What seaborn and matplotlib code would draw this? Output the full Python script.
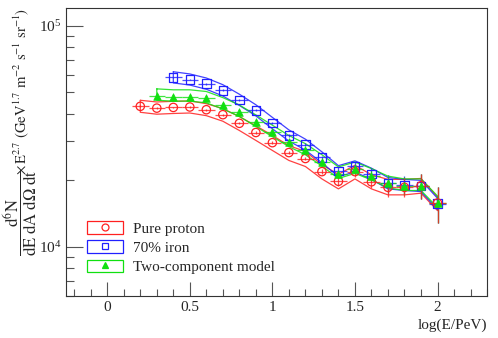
import numpy as np
import pandas as pd
import matplotlib
matplotlib.use("Agg")
import matplotlib.pyplot as plt
import seaborn as sns
from matplotlib.patches import Patch
from matplotlib.lines import Line2D
from matplotlib.ticker import LogLocator, NullFormatter, MultipleLocator

# ---- data ----
proton_x = [0.2, 0.3, 0.4, 0.5, 0.6, 0.7, 0.8, 0.9, 1.0, 1.1, 1.2, 1.3, 1.4, 1.5, 1.6, 1.7, 1.8, 1.9, 2.0]
proton_y = [43200, 42400, 42700, 42900, 41700, 39600, 36200, 32900, 29600, 26700, 25100, 21900, 19800,
            21900, 19700, 18600, 18600, 18900, 15800]
proton_err = [400, 400, 400, 400, 400, 400, 400, 400, 400, 400, 500, 600, 900, 1100, 1300, 1800, 1800, 2400, 2900]
proton_hi = [46000, 45200, 45500, 45700, 44400, 42200, 38800, 35300, 31900, 28700, 27000, 23500, 21300,
             23400, 21200, 20200, 20200, 20400, 16800]
proton_lo = [40600, 39800, 40100, 40300, 39200, 37000, 33600, 30300, 27300, 24600, 23100, 20300, 18300,
             20300, 18300, 17200, 17200, 17500, 14600]

iron_x = [0.4, 0.5, 0.6, 0.7, 0.8, 0.9, 1.0, 1.1, 1.2, 1.3, 1.4, 1.5, 1.6, 1.7, 1.8, 1.9, 2.0]
iron_y = [58400, 57100, 54700, 51000, 46200, 41400, 36300, 31900, 29000, 25400, 22000, 23100, 21400,
          19400, 19100, 18900, 15700]
iron_err = [500, 500, 500, 500, 500, 450, 400, 400, 400, 400, 900, 1100, 1300, 1800, 1800, 2400, 2900]
iron_hi = [61900, 60500, 58000, 54100, 49000, 43900, 38500, 33800, 30700, 26900, 23300, 24500, 22700,
           20600, 20200, 20000, 16600]
iron_lo = [55100, 53900, 51600, 48100, 43600, 39100, 34200, 30100, 27400, 24000, 20800, 21800, 20200,
           18300, 18000, 17800, 14800]

two_x = [0.3, 0.4, 0.5, 0.6, 0.7, 0.8, 0.9, 1.0, 1.1, 1.2, 1.3, 1.4, 1.5, 1.6, 1.7, 1.8, 1.9, 2.0]
two_y = [48200, 47700, 47700, 46900, 44000, 40700, 36700, 33000, 29700, 27300, 24300, 21400, 22500,
         21000, 19400, 18900, 18900, 15800]
two_err = [450, 450, 450, 450, 450, 400, 400, 400, 400, 400, 400, 900, 1100, 1300, 1800, 1800, 2400, 2900]
two_hi = [51800, 51300, 51300, 50400, 47300, 43800, 39500, 35500, 31900, 29300, 26100, 23000, 24200,
          22600, 20900, 20300, 20300, 17000]
two_lo = [46000, 45600, 45600, 44800, 42000, 38900, 35000, 31500, 28400, 26100, 23200, 20400, 21500,
          20100, 18500, 18000, 18000, 15100]

labels = ["Pure proton", "70% iron", "Two-component model"]
colors = ["#ff2020", "#2020ff", "#10e010"]
markers = ["o", "s", "^"]

series = [
    (proton_x, proton_y, proton_err, proton_hi, proton_lo),
    (iron_x, iron_y, iron_err, iron_hi, iron_lo),
    (two_x, two_y, two_err, two_hi, two_lo),
]

rows = []
for lab, (xs, ys, es, hs, ls) in zip(labels, series):
    for x, y, e, h, l in zip(xs, ys, es, hs, ls):
        rows.append(dict(model=lab, logE=x, flux=y, err=e, hi=h, lo=l))
df = pd.DataFrame(rows)

# ---- style ----
sns.set_style("ticks")
plt.rcParams["font.family"] = ["Liberation Serif", "DejaVu Serif"]
plt.rcParams["mathtext.fontset"] = "stix"

fig = plt.figure(figsize=(4.98, 3.38), dpi=100)
ax = fig.add_axes([0.1325, 0.124, 0.8455, 0.852])

# systematic bands drawn as closed outlines
for lab, col in zip(labels, colors):
    d = df[df.model == lab]
    bx = list(d.logE) + list(d.logE[::-1]) + [d.logE.iloc[0]]
    by = list(d.hi) + list(d.lo[::-1]) + [d.hi.iloc[0]]
    outline = pd.DataFrame({"x": bx, "y": by})
    sns.lineplot(data=outline, x="x", y="y", sort=False, estimator=None, color=col,
                 lw=0.9, alpha=0.85, ax=ax)

# error bars
for lab, col in zip(["70% iron", "Two-component model", "Pure proton"],
                    [colors[1], colors[2], colors[0]]):
    d = df[df.model == lab]
    ax.errorbar(d.logE, d.flux, xerr=0.05, yerr=d.err, fmt="none", ecolor=col,
                elinewidth=0.9, alpha=0.8, capsize=0)

# markers
sns.scatterplot(data=df[df.model == "70% iron"], x="logE", y="flux", marker="s", s=36,
                facecolor="none", edgecolor=colors[1], linewidth=0.9, ax=ax, zorder=5)
sns.scatterplot(data=df[df.model == "Pure proton"], x="logE", y="flux", marker="o", s=36,
                facecolor="none", edgecolor=colors[0], linewidth=0.9, ax=ax, zorder=6)
sns.scatterplot(data=df[df.model == "Two-component model"], x="logE", y="flux", marker="^", s=30,
                color=colors[2], edgecolor=colors[2], linewidth=0.5, ax=ax, zorder=7)

# ---- axes ----
ax.set_yscale("log")
ax.set_xlim(-0.25, 2.3)
ax.set_ylim(6000, 120000)
ax.xaxis.set_major_locator(MultipleLocator(0.5))
ax.xaxis.set_minor_locator(MultipleLocator(0.1))
ax.yaxis.set_major_locator(LogLocator(base=10))
ax.yaxis.set_minor_locator(LogLocator(base=10, subs=np.arange(2, 10)))
ax.yaxis.set_minor_formatter(NullFormatter())
ax.xaxis.set_major_formatter(matplotlib.ticker.FuncFormatter(lambda v, p: f"{v:g}"))
ax.tick_params(which="major", direction="in", length=10, width=0.8, labelsize=11, color="#555555")
ax.tick_params(which="minor", direction="in", length=5, width=0.8, color="#555555")
ax.tick_params(axis="y", which="major", length=12)
ax.tick_params(axis="y", which="minor", length=6)
for sp in ax.spines.values():
    sp.set_linewidth(0.8)
    sp.set_color("#333333")

ax.set_xlabel("log(E/PeV)", fontsize=11, loc="right", labelpad=3)
ax.set_ylabel("")
# y title in two pieces: the big fraction and the smaller unit part
fig.text(0.041, 1 - 256 / 338, r"$\dfrac{\mathrm{d^6N}}{\mathrm{dE\ dA\ d\Omega\ dt}}$",
         rotation=90, ha="center", va="bottom", fontsize=12)
fig.text(0.043, 0.976, r"$\times\,\mathrm{E^{2.7}\ (GeV^{1.7}\ m^{-2}\ s^{-1}\ sr^{-1})}$",
         rotation=90, ha="center", va="top", fontsize=10.5)

# legend: coloured box with marker inside
handles = []
for col, m in zip(colors, markers):
    box = Patch(facecolor="none", edgecolor=col, linewidth=0.9)
    mk = Line2D([], [], ls="none", marker=m, ms=5, mec=col,
                mfc=col if m == "^" else "none", mew=0.9)
    handles.append((box, mk))
ax.legend(handles, labels, loc="lower left", bbox_to_anchor=(0.035, 0.055), frameon=False,
          fontsize=11, handlelength=2.4, handleheight=0.9, handletextpad=0.6,
          labelspacing=0.3, borderaxespad=0)

fig.savefig("out.png", dpi=100)
